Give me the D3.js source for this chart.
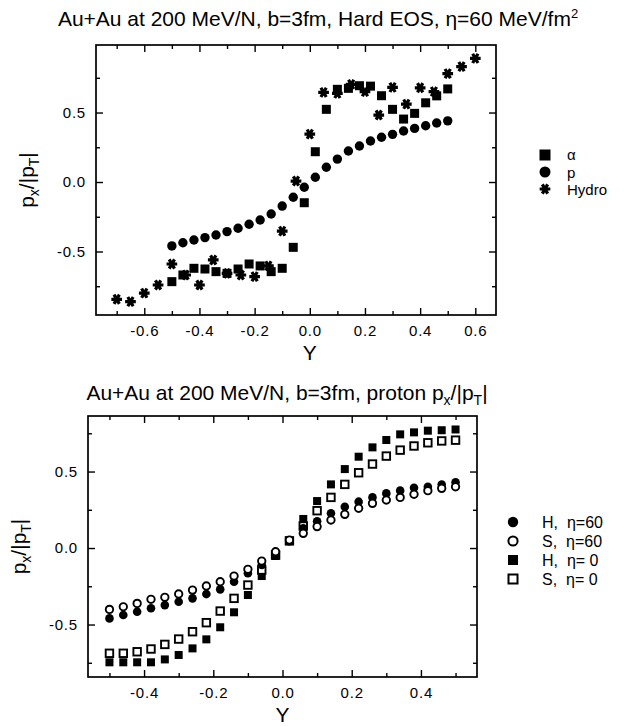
<!DOCTYPE html>
<html>
<head>
<meta charset="utf-8">
<script src="https://cdn.jsdelivr.net/npm/d3@7"></script>
<style>
  body { margin: 0; background: #fff; }
  text { font-family: "Liberation Sans", Arial, sans-serif; fill: #000; }
</style>
</head>
<body>
<div id="chart-area"></div>
<script>
// rapidity bins used for the transport points (alpha, proton, bottom panel)
var rapidity = [-0.50, -0.46, -0.42, -0.38, -0.34, -0.30, -0.26, -0.22, -0.18, -0.14, -0.10, -0.06, -0.02,
                 0.02,  0.06,  0.10,  0.14,  0.18,  0.22,  0.26,  0.30,  0.34,  0.38,  0.42,  0.46,  0.50];

// top panel
var alphaFlow  = [-0.717, -0.669, -0.621, -0.626, -0.645, -0.657, -0.626, -0.590, -0.604, -0.645, -0.621, -0.470, -0.149,
                   0.218,  0.523,  0.667,  0.674,  0.693,  0.690,  0.621,  0.523,  0.453,  0.494,  0.570,  0.620,  0.670];
var protonFlow = [-0.460, -0.437, -0.417, -0.400, -0.381, -0.357, -0.333, -0.304, -0.273, -0.230, -0.173, -0.110, -0.038,
                   0.034,  0.106,  0.165,  0.223,  0.259,  0.295,  0.322,  0.343,  0.367,  0.386,  0.405,  0.425,  0.440];
var hydroRap  = [-0.70, -0.65, -0.60, -0.55, -0.50, -0.45, -0.40, -0.35, -0.30, -0.25, -0.20, -0.15, -0.10, -0.05,
                  0.00,  0.05,  0.10,  0.15,  0.20,  0.25,  0.30,  0.35,  0.40,  0.45,  0.50,  0.55,  0.60];
var hydroFlow = [-0.844, -0.861, -0.800, -0.741, -0.590, -0.669, -0.741, -0.561, -0.657, -0.669, -0.681, -0.604, -0.353, 0.007,
                  0.345,  0.645,  0.638,  0.703,  0.650,  0.482,  0.681,  0.561,  0.678,  0.650,  0.780,  0.830,  0.890];

// bottom panel (proton px/|pT|)
var hEta60 = [-0.460, -0.438, -0.416, -0.394, -0.373, -0.351, -0.329, -0.301, -0.270, -0.220, -0.165, -0.111, -0.046,
               0.045,  0.129,  0.175,  0.227,  0.270,  0.303,  0.331,  0.357,  0.375,  0.394,  0.400,  0.415,  0.430];
var sEta60 = [-0.401, -0.384, -0.362, -0.335, -0.322, -0.300, -0.275, -0.248, -0.220, -0.183, -0.139, -0.085, -0.024,
               0.052,  0.096,  0.140,  0.183,  0.220,  0.260,  0.292,  0.314,  0.331,  0.351,  0.375,  0.390,  0.400];
var hEta0  = [-0.747, -0.747, -0.747, -0.747, -0.728, -0.699, -0.656, -0.597, -0.518, -0.420, -0.307, -0.183, -0.052,
               0.045,  0.190,  0.307,  0.416,  0.516,  0.597,  0.658,  0.706,  0.743,  0.756,  0.767,  0.770,  0.775];
var sEta0  = [-0.688, -0.688, -0.678, -0.660, -0.630, -0.595, -0.547, -0.488, -0.412, -0.329, -0.242, -0.144, -0.046,
               0.047,  0.144,  0.244,  0.331,  0.416,  0.492,  0.549,  0.601,  0.640,  0.667,  0.688,  0.700,  0.705];

// ticks
var topXLabels = [-0.6, -0.4, -0.2, 0.0, 0.2, 0.4, 0.6];
var topXMinor  = [-0.7, -0.5, -0.3, -0.1, 0.1, 0.3, 0.5];
var botXLabels = [-0.4, -0.2, 0.0, 0.2, 0.4];
var botXMinor  = [-0.5, -0.3, -0.1, 0.1, 0.3, 0.5];
var yLabels = [-0.5, 0.0, 0.5];
var yMinor  = [-0.75, -0.25, 0.25, 0.75];

var svg = d3.select("#chart-area").append("svg")
  .attr("width", 624)
  .attr("height", 727);

// plain hyphen for negative tick labels, like the original
var fmt = d3.formatLocale({ decimal: ".", thousands: ",", grouping: [3], currency: ["", ""], minus: "-" })
  .format(".1f");

function zip(xs, ys) {
  return xs.map(function(d, i) { return { x: d, y: ys[i] }; });
}

// draws a framed panel with inward ticks on all four sides
function panel(box, xDom, yDom, xLab, xMin) {
  var x = d3.scaleLinear().domain(xDom).range([box.left, box.right]);
  var y = d3.scaleLinear().domain(yDom).range([box.bottom, box.top]);
  var w = box.right - box.left, h = box.bottom - box.top;

  function addAxis(axis, tr) {
    var g = svg.append("g").attr("transform", tr).call(axis);
    g.select(".domain").remove();
    g.selectAll("line").attr("stroke-width", 1.4);
    return g;
  }

  var bx = addAxis(d3.axisBottom(x).tickValues(xLab).tickSize(-7).tickPadding(10).tickFormat(fmt),
    "translate(0," + box.bottom + ")");
  bx.selectAll("text").attr("font-size", "15px").attr("letter-spacing", "0.8px");
  addAxis(d3.axisBottom(x).tickValues(xMin).tickSize(-4).tickFormat(""), "translate(0," + box.bottom + ")");
  addAxis(d3.axisTop(x).tickValues(xLab).tickSize(-7).tickFormat(""), "translate(0," + box.top + ")");
  addAxis(d3.axisTop(x).tickValues(xMin).tickSize(-4).tickFormat(""), "translate(0," + box.top + ")");

  var ly = addAxis(d3.axisLeft(y).tickValues(yLabels).tickSize(-7).tickPadding(10).tickFormat(fmt),
    "translate(" + box.left + ",0)");
  ly.selectAll("text").attr("font-size", "15px").attr("letter-spacing", "0.8px");
  addAxis(d3.axisLeft(y).tickValues(yMinor).tickSize(-4).tickFormat(""), "translate(" + box.left + ",0)");
  addAxis(d3.axisRight(y).tickValues(yLabels).tickSize(-7).tickFormat(""), "translate(" + box.right + ",0)");
  addAxis(d3.axisRight(y).tickValues(yMinor).tickSize(-4).tickFormat(""), "translate(" + box.right + ",0)");

  svg.append("rect")
    .attr("x", box.left).attr("y", box.top)
    .attr("width", w).attr("height", h)
    .attr("fill", "none").attr("stroke", "#000").attr("stroke-width", 1.7);

  // axis titles
  var yl = svg.append("text")
    .attr("transform", "translate(" + (box.left - 62) + "," + ((box.top + box.bottom) / 2) + ") rotate(-90)")
    .attr("text-anchor", "middle")
    .attr("font-size", "21px");
  yl.append("tspan").text("p");
  yl.append("tspan").attr("font-size", "14px").attr("dy", 5).text("x");
  yl.append("tspan").attr("dy", -5).text("/|p");
  yl.append("tspan").attr("font-size", "14px").attr("dy", 5).text("T");
  yl.append("tspan").attr("dy", -5).text("|");

  svg.append("text")
    .attr("x", x(0)).attr("y", box.bottom + 45)
    .attr("text-anchor", "middle")
    .attr("font-size", "21px")
    .text("Y");

  return { x: x, y: y };
}

function squares(sc, data, side, filled) {
  svg.append("g").selectAll("rect").data(data).enter().append("rect")
    .attr("x", function(d) { return sc.x(d.x) - side / 2; })
    .attr("y", function(d) { return sc.y(d.y) - side / 2; })
    .attr("width", side).attr("height", side)
    .attr("fill", filled ? "#000" : "#fff")
    .attr("stroke", "#000")
    .attr("stroke-width", filled ? 0 : 1.9);
}

function circles(sc, data, r, filled) {
  svg.append("g").selectAll("circle").data(data).enter().append("circle")
    .attr("cx", function(d) { return sc.x(d.x); })
    .attr("cy", function(d) { return sc.y(d.y); })
    .attr("r", r)
    .attr("fill", filled ? "#000" : "#fff")
    .attr("stroke", "#000")
    .attr("stroke-width", filled ? 0 : 1.9);
}

var star = d3.symbol().type(d3.symbolAsterisk).size(80);

function stars(sc, data) {
  svg.append("g").selectAll("path").data(data).enter().append("path")
    .attr("transform", function(d) { return "translate(" + sc.x(d.x) + "," + sc.y(d.y) + ") rotate(90)"; })
    .attr("d", star)
    .attr("fill", "none")
    .attr("stroke", "#000")
    .attr("stroke-width", 3.2);
}

// ---- top panel ----
var t1 = svg.append("text").attr("x", 318).attr("y", 26)
  .attr("text-anchor", "middle").attr("font-size", "21px");
t1.append("tspan").text("Au+Au at 200 MeV/N, b=3fm, Hard EOS, \u03b7=60 MeV/fm");
t1.append("tspan").attr("font-size", "13px").attr("dy", -8).text("2");

var topSc = panel({ left: 96, right: 496, top: 45, bottom: 315 },
  [-0.775, 0.675], [-0.957, 0.986], topXLabels, topXMinor);

squares(topSc, zip(rapidity, alphaFlow), 9, true);
circles(topSc, zip(rapidity, protonFlow), 4.7, true);
stars(topSc, zip(hydroRap, hydroFlow));

// top legend
var lg1 = svg.append("g").attr("transform", "translate(545,0)");
lg1.append("rect").attr("x", -5.5).attr("y", 149.5).attr("width", 11).attr("height", 11);
lg1.append("circle").attr("cx", 0).attr("cy", 172).attr("r", 5.5);
lg1.append("path").attr("transform", "translate(0,189) rotate(90)").attr("d", star)
  .attr("fill", "none").attr("stroke", "#000").attr("stroke-width", 3.2);
lg1.append("text").attr("x", 22).attr("y", 160).attr("font-size", "15px").text("\u03b1");
lg1.append("text").attr("x", 22).attr("y", 178).attr("font-size", "15px").text("p");
lg1.append("text").attr("x", 22).attr("y", 195).attr("font-size", "15px").text("Hydro");

// ---- bottom panel ----
var t2 = svg.append("text").attr("x", 287).attr("y", 400)
  .attr("text-anchor", "middle").attr("font-size", "21px");
t2.append("tspan").text("Au+Au at 200 MeV/N, b=3fm, proton p");
t2.append("tspan").attr("font-size", "14px").attr("dy", 5).text("x");
t2.append("tspan").attr("dy", -5).text("/|p");
t2.append("tspan").attr("font-size", "14px").attr("dy", 5).text("T");
t2.append("tspan").attr("dy", -5).text("|");

var botSc = panel({ left: 88, right: 477, top: 416, bottom: 677 },
  [-0.562, 0.562], [-0.843, 0.863], botXLabels, botXMinor);

squares(botSc, zip(rapidity, hEta0), 8, true);
squares(botSc, zip(rapidity, sEta0), 7.5, false);
circles(botSc, zip(rapidity, hEta60), 4.3, true);
circles(botSc, zip(rapidity, sEta60), 3.7, false);

// bottom legend
var legendNames = ["H,  \u03b7=60", "S,  \u03b7=60", "H,  \u03b7= 0", "S,  \u03b7= 0"];
var lg2 = svg.append("g").attr("transform", "translate(513,0)");
lg2.append("circle").attr("cx", 0).attr("cy", 522).attr("r", 5.2);
lg2.append("circle").attr("cx", 0).attr("cy", 541).attr("r", 4.6)
  .attr("fill", "#fff").attr("stroke", "#000").attr("stroke-width", 2);
lg2.append("rect").attr("x", -5).attr("y", 555).attr("width", 10).attr("height", 10);
lg2.append("rect").attr("x", -4.5).attr("y", 574.5).attr("width", 9).attr("height", 9)
  .attr("fill", "#fff").attr("stroke", "#000").attr("stroke-width", 2);
lg2.selectAll("text.lab").data(legendNames).enter().append("text")
  .attr("class", "lab")
  .attr("x", 29)
  .attr("y", function(d, i) { return 528 + i * 19; })
  .attr("font-size", "16px")
  .style("white-space", "pre")
  .text(function(d) { return d; });
</script>
</body>
</html>
